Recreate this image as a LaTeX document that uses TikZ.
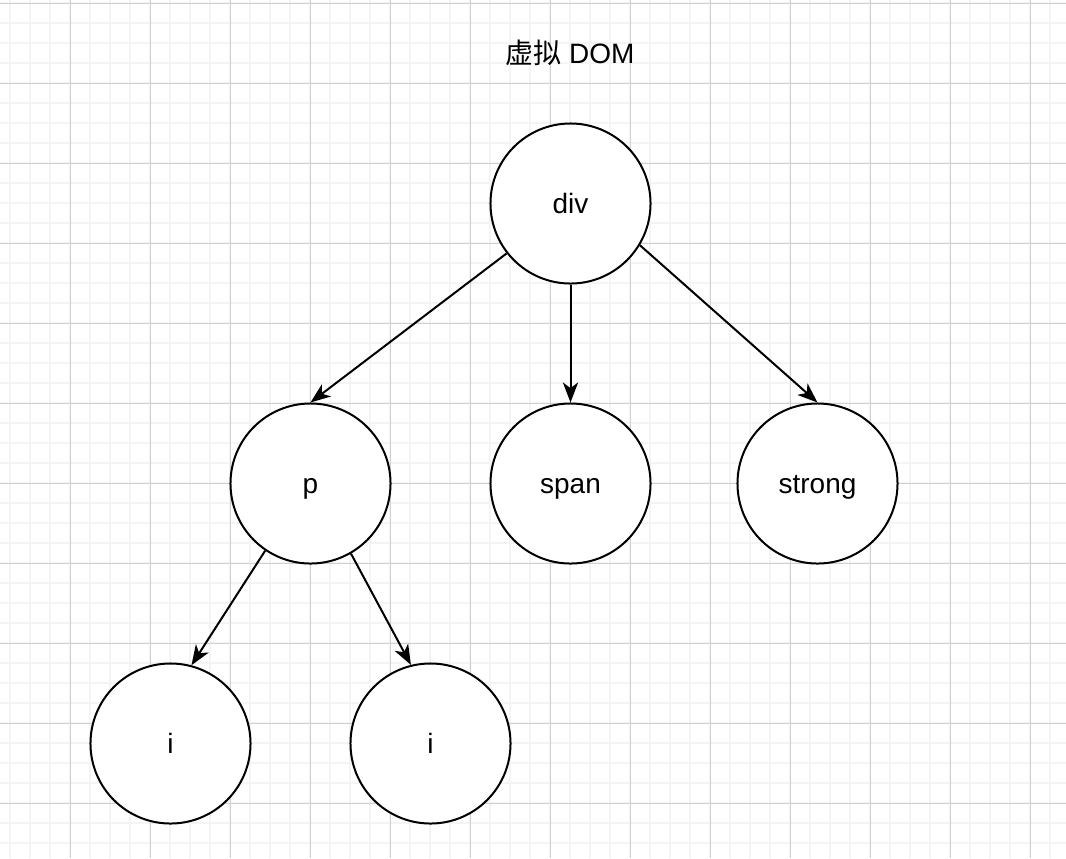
\documentclass[tikz,border=0pt]{standalone}
\usepackage{fontspec}
\setmainfont{Liberation Sans}
\newfontfamily\cjk{Noto Sans CJK SC}
\usetikzlibrary{arrows.meta}
\definecolor{gridmajor}{RGB}{208,208,208}
\definecolor{gridminor}{RGB}{244,244,244}
\tikzset{
  minorline/.style={gridminor,line width=0.045cm},
  majorline/.style={gridmajor,line width=0.025cm},
  tag/.style={circle,draw,fill=white,line width=0.05cm,minimum size=4cm,
    inner sep=0pt,text height=0.6cm,text depth=0.1cm,
    font=\fontsize{19.9}{24}\selectfont},
  edge/.style={line width=0.05cm,-{Stealth[length=0.5cm,width=0.38cm,inset=0.14cm]}},
  every node/.style={font=\fontsize{19.9}{24}\selectfont}
}

\begin{document}
\begin{tikzpicture}[x=0.025cm,y=-0.025cm]
  \useasboundingbox (0,0) rectangle (1066,858);
  % background grid
  \foreach \x in {10,30,...,1050} \draw[minorline] (\x,0) -- (\x,858);
  \foreach \y in {3,23,...,843} \draw[minorline] (0,\y) -- (1066,\y);
  \foreach \x in {70,150,...,1030} \draw[majorline] (\x,0) -- (\x,858);
  \foreach \y in {3,83,...,803} \draw[majorline] (0,\y) -- (1066,\y);

  \node[anchor=base] (title) at (570,63) {{\cjk 虚拟} DOM};

  \node[tag] (div) at (570.5,203.5) {div};
  \node[tag] (p) at (310.5,483.5) {p};
  \node[tag] (span) at (570.5,483.5) {span};
  \node[tag] (strong) at (817.5,483.5) {strong};
  \node[tag] (i1) at (170.5,743.5) {i};
  \node[tag] (i2) at (430.5,743.5) {i};

  \draw[edge] (div.218) -- (p.north);
  \draw[edge] (div.south) -- (span.north);
  \draw[edge] (div.329) -- (strong.north);
  \draw[edge] (p.236) -- (i1.75);
  \draw[edge] (p.300) -- (i2.104);
\end{tikzpicture}
\end{document}
